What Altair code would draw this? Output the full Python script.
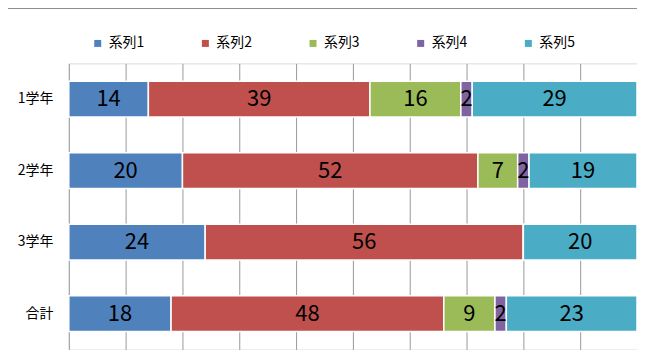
import altair as alt
import pandas as pd

categories = ["1学年", "2学年", "3学年", "合計"]
series_names = ["系列1", "系列2", "系列3", "系列4", "系列5"]
s1 = [14, 20, 24, 18]
s2 = [39, 52, 56, 48]
s3 = [16, 7, 0, 9]
s4 = [2, 2, 0, 2]
s5 = [29, 19, 20, 23]
colors = ["#4F81BD", "#C0504D", "#9BBB59", "#8064A2", "#4BACC6"]

rows = []
for si, (name, vals) in enumerate(zip(series_names, [s1, s2, s3, s4, s5])):
    for c, v in zip(categories, vals):
        rows.append({"cat": c, "series": name, "order": si, "value": v})
df = pd.DataFrame(rows)

FONT = "Noto Sans CJK JP"

base = alt.Chart(df).transform_stack(
    stack="value", groupby=["cat"], as_=["x0", "x1"],
    sort=[alt.SortField("order", order="ascending")]
).transform_calculate(mid="(datum.x0 + datum.x1) / 2")

yenc = alt.Y("cat:N", sort=categories,
             scale=alt.Scale(paddingInner=0.5, paddingOuter=0.25),
             axis=alt.Axis(title=None, ticks=False, domain=False, grid=False,
                           labelFontSize=14, labelFont=FONT, labelColor="#000",
                           labelPadding=16))
xscale = alt.Scale(domain=[0, 100], nice=False)

bars = base.mark_bar(stroke="white", strokeWidth=1.5).encode(
    y=yenc,
    x=alt.X("x0:Q", scale=xscale,
            axis=alt.Axis(title=None, labels=False, ticks=False, domain=False,
                          grid=True, gridColor="#999999", gridWidth=1,
                          values=list(range(0, 101, 10)))),
    x2="x1:Q",
    color=alt.Color("series:N", sort=series_names,
                    scale=alt.Scale(domain=series_names, range=colors),
                    legend=alt.Legend(title=None, orient="none", direction="horizontal",
                                      columns=5, legendX=22, legendY=-27,
                                      symbolType="square", symbolSize=49,
                                      symbolStrokeWidth=0, labelFontSize=14,
                                      labelFont=FONT, labelColor="#000",
                                      columnPadding=54, labelOffset=4)),
)

labels = base.transform_filter("datum.value > 0").mark_text(
    fontSize=22, font=FONT, color="#000", baseline="middle", align="center"
).encode(
    y=alt.Y("cat:N", sort=categories),
    x=alt.X("mid:Q", scale=xscale),
    text="value:Q",
)

frame_left = alt.Chart(pd.DataFrame({"a": [0]})).mark_rule(color="#8c8c8c", strokeWidth=1).encode(
    x=alt.value(-62), y=alt.value(-55), y2=alt.value(300))
frame_top = alt.Chart(pd.DataFrame({"a": [0]})).mark_rule(color="#8c8c8c", strokeWidth=1).encode(
    x=alt.value(-62), x2=alt.value(580), y=alt.value(-55))

chart = alt.layer(bars, labels, frame_left, frame_top).properties(
    width=570, height=287,
    autosize=alt.AutoSizeParams(type="none"),
    padding={"left": 61, "top": 55, "right": 0, "bottom": 0},
).configure_view(stroke=None).configure(background="white")

chart.save("out.html", embed_options={"renderer": "svg", "actions": False})
